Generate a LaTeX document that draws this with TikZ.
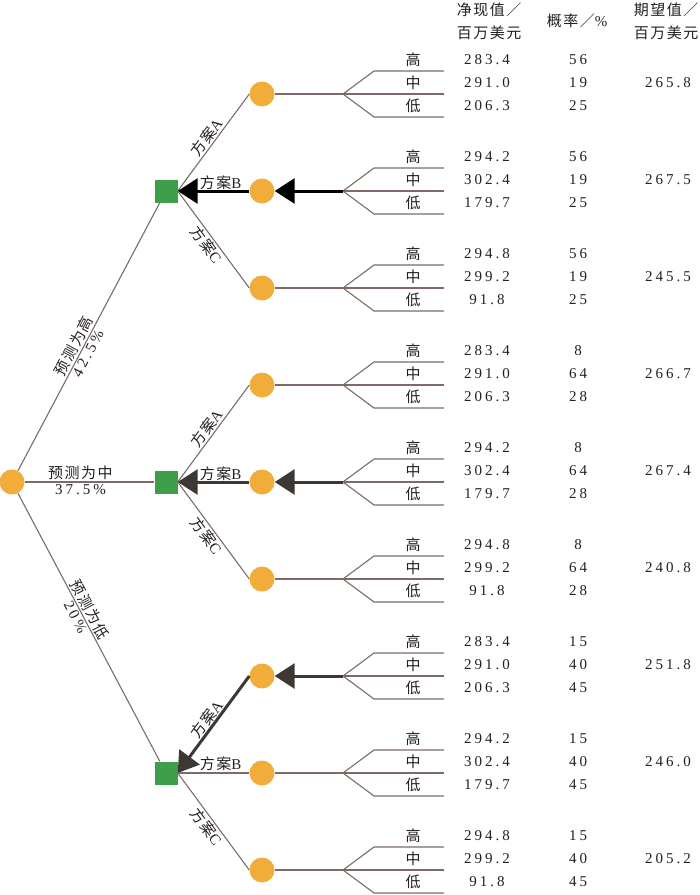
\documentclass[tikz,border=0pt]{standalone}
\usepackage{fontspec}
\setmainfont[LetterSpace=20]{Liberation Serif}
\newfontfamily\cjk[LetterSpace=10]{Noto Sans CJK SC}
\usetikzlibrary{arrows.meta}
\definecolor{corange}{HTML}{F2AC3A}
\definecolor{cgreen}{HTML}{3E9E4A}
\definecolor{cline}{HTML}{7D6B67}
\definecolor{cdark}{HTML}{3D3834}
\definecolor{ctext}{HTML}{231F20}
\tikzset{
  chance/.style={circle, fill=corange, minimum size=25pt, inner sep=0pt},
  decision/.style={rectangle, fill=cgreen, minimum size=23pt, inner sep=0pt},
  branch/.style={draw=cline, line width=1.1pt},
  boldarrow/.style={line width=3pt, -{Triangle[length=20pt,width=25pt]}},
  lbl/.style={font=\fontsize{15}{17}\selectfont, text=ctext, inner sep=1.5pt},
  num/.style={font=\fontsize{15}{17}\selectfont, text=ctext, inner sep=0pt},
}
\begin{document}
\begin{tikzpicture}[x=1pt,y=-1pt]
\useasboundingbox (0,0) rectangle (700,895);

% chance nodes and fan coordinates
\foreach \i in {1,...,9}{
  \pgfmathsetmacro{\yy}{94+97*(\i-1)}
  \node[chance] (c\i) at (262,\yy) {};
  \coordinate (f\i) at (343,\yy);
  \coordinate (u\i) at (374,{\yy-23});
  \coordinate (ue\i) at (444,{\yy-23});
  \coordinate (me\i) at (444,\yy);
  \coordinate (d\i) at (374,{\yy+23});
  \coordinate (de\i) at (444,{\yy+23});
}
\node[decision] (s1) at (166,191) {};
\node[decision] (s2) at (166,482) {};
\node[decision] (s3) at (166,773) {};
\node[chance] (r) at (12,482) {};

% fans
\foreach \i in {1,...,9}{
  \draw[branch] (f\i) -- (me\i);
  \draw[branch] (f\i) -- (u\i) -- (ue\i);
  \draw[branch] (f\i) -- (d\i) -- (de\i);
}
\foreach \i in {1,3,4,6,8,9}{
  \draw[branch] (c\i.east) -- (f\i);
}
\draw[boldarrow, black] (f2) -- (c2.east);
\draw[boldarrow, cdark] (f5) -- (c5.east);
\draw[boldarrow, cdark] (f7) -- (c7.east);

% fan labels and data
\foreach \i/\a/\b/\c/\pa/\pb/\pc/\e in {
  1/283.4/291.0/206.3/56/19/25/265.8,
  2/294.2/302.4/179.7/56/19/25/267.5,
  3/294.8/299.2/91.8/56/19/25/245.5,
  4/283.4/291.0/206.3/8/64/28/266.7,
  5/294.2/302.4/179.7/8/64/28/267.4,
  6/294.8/299.2/91.8/8/64/28/240.8,
  7/283.4/291.0/206.3/15/40/45/251.8,
  8/294.2/302.4/179.7/15/40/45/246.0,
  9/294.8/299.2/91.8/15/40/45/205.2}{
  \pgfmathsetmacro{\yy}{94+97*(\i-1)}
  \node[lbl] (lh\i) at (413,{\yy-34}) {\cjk 高};
  \node[lbl] (lm\i) at (413,{\yy-11}) {\cjk 中};
  \node[lbl] (ll\i) at (413,{\yy+12}) {\cjk 低};
  \node[num] (na\i) at (487,{\yy-34}) {\a};
  \node[num] (nb\i) at (487,{\yy-11}) {\b};
  \node[num] (nc\i) at (487,{\yy+12}) {\c};
  \node[num] (pa\i) at (578,{\yy-34}) {\pa};
  \node[num] (pb\i) at (578,{\yy-11}) {\pb};
  \node[num] (pc\i) at (578,{\yy+12}) {\pc};
  \node[num] (ev\i) at (668,{\yy-11}) {\e};
}

% decision branches
\draw[branch] (s1.east) -- node[sloped, above, lbl] {{\cjk 方案}A} (c1.west);
\draw[boldarrow, black] (c2.west) -- (s1.east);
\path (s1.east) -- node[pos=0.6, above, lbl] {{\cjk 方案}B} (c2.west);
\draw[branch] (s1.east) -- node[sloped, below, lbl] {{\cjk 方案}C} (c3.west);

\draw[branch] (s2.east) -- node[sloped, above, lbl] {{\cjk 方案}A} (c4.west);
\draw[boldarrow, cdark] (c5.west) -- (s2.east);
\path (s2.east) -- node[pos=0.6, above, lbl] {{\cjk 方案}B} (c5.west);
\draw[branch] (s2.east) -- node[sloped, below, lbl] {{\cjk 方案}C} (c6.west);

\draw[boldarrow, cdark] (c7.west) -- (s3.east);
\path (s3.east) -- node[sloped, above, lbl] {{\cjk 方案}A} (c7.west);
\draw[branch] (s3.east) -- node[pos=0.6, above, lbl] {{\cjk 方案}B} (c8.west);
\draw[branch] (s3.east) -- node[sloped, below, lbl] {{\cjk 方案}C} (c9.west);

% root branches
\draw[branch] (r) -- node[pos=0.45, sloped, above, lbl] {\cjk 预测为高}
                     node[pos=0.45, sloped, below, lbl] {42.5\%} (s1);
\draw[branch] (r) -- node[pos=0.43, above, lbl] {\cjk 预测为中}
                     node[pos=0.43, below, lbl] {37.5\%} (s2);
\draw[branch] (r) -- node[pos=0.45, sloped, above, lbl] {\cjk 预测为低}
                     node[pos=0.45, sloped, below, lbl] {20\%} (s3);

% headers
\node[lbl] (h1a) at (489,10) {\cjk 净现值／};
\node[lbl] (h1b) at (489,33) {\cjk 百万美元};
\node[lbl] (h2) at (577,21) {{\cjk 概率／}\%};
\node[lbl] (h3a) at (666,10) {\cjk 期望值／};
\node[lbl] (h3b) at (666,33) {\cjk 百万美元};
\end{tikzpicture}
\end{document}
